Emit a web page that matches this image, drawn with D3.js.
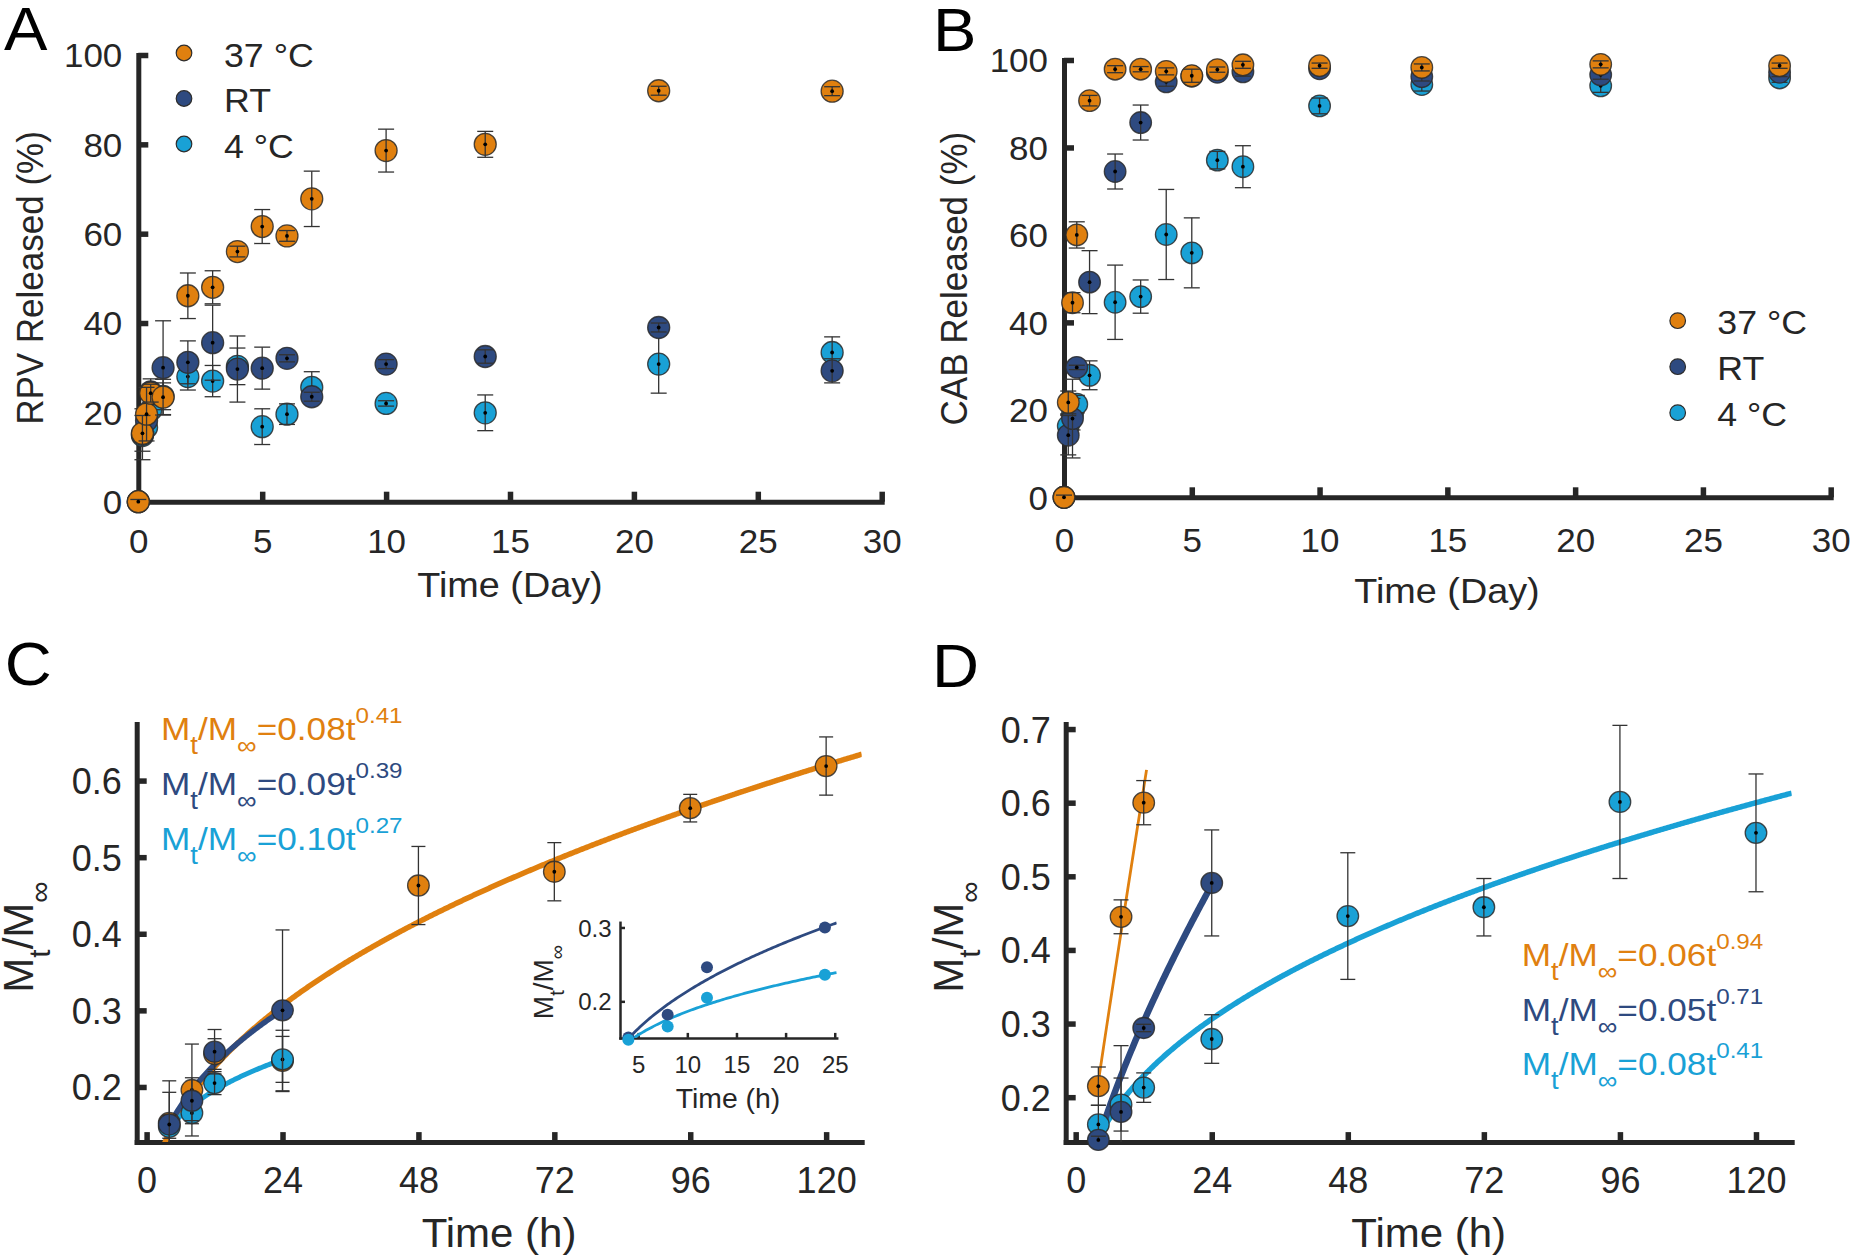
<!DOCTYPE html>
<html><head><meta charset="utf-8">
<script src="https://cdn.jsdelivr.net/npm/d3@7"></script>
<style>
body{margin:0;background:#fff}
svg{display:block}
text{font-family:"Liberation Sans",Arial,Helvetica,sans-serif}
</style>
</head><body>
<script>
// ---------------- DATA ----------------
const seriesNames = ["37 °C", "RT", "4 °C"];

// Panel A / B : time in days
const dayTimes = [0, 0.167, 0.333, 0.5, 1, 2, 3, 4, 5, 6, 7, 10, 14, 21, 28];
const rpv37    = [0, 15.3, 19.6, 24.3, 23.4, 46.1, 48.0, 56.0, 61.6, 59.5, 67.8, 78.6, 80.0, 92.0, 91.9];
const rpv37Err = [0.5, 4.0, 6.0, 2.0, 4.0, 5.1, 3.7, 1.2, 3.8, 1.2, 6.2, 4.8, 2.9, 1.0, 1.0];
const rpvRT    = [0, 15.1, 18.2, 24.6, 30.0, 31.2, 35.6, 29.7, 29.9, 32.1, 23.5, 30.8, 32.5, 39.0, 29.3];
const rpvRTErr = [0.5, 5.7, 3.0, 2.9, 10.5, 4.8, 8.4, 7.4, 4.7, 0.8, 1.0, 1.0, 1.5, 1.0, 2.7];
const rpv4     = [0, 14.8, 16.6, 20.5, 23.6, 28.0, 27.0, 30.3, 16.8, 19.6, 25.6, 22.0, 19.9, 30.8, 33.4];
const rpv4Err  = [0.5, 1.5, 1.0, 1.5, 3.0, 3.0, 3.5, 4.1, 4.0, 2.3, 3.5, 0.6, 4.0, 6.5, 3.5];

const cab37    = [0, 21.7, 44.5, 60.0, 90.7, 97.9, 97.9, 97.4, 96.4, 97.8, 98.9, 98.7, 98.3, 99.0, 98.7];
const cab37Err = [0.5, 2.6, 2.3, 3.0, 1.2, 0.8, 0.6, 0.8, 1.5, 0.6, 0.8, 0.6, 0.8, 0.8, 0.6];
const cabRT    = [0, 14.2, 18.0, 29.7, 49.2, 74.5, 85.7, 95.0, 96.3, 97.2, 97.3, 98.0, 96.2, 96.6, 97.2];
const cabRTErr = [0.5, 4.5, 9.0, 0.5, 7.2, 4.0, 4.0, 1.0, 1.0, 1.0, 1.0, 1.0, 1.0, 1.0, 1.0];
const cab4     = [0, 16.3, 19.0, 21.3, 27.9, 44.6, 45.9, 60.1, 55.9, 77.1, 75.6, 89.5, 94.4, 94.1, 95.9];
const cab4Err  = [0.5, 2.6, 3.6, 2.0, 3.3, 8.5, 3.8, 10.3, 8.0, 2.0, 4.8, 1.8, 1.5, 1.5, 1.0];

// Panel C / D : time in hours, fraction released
const hourTimes   = [4, 8, 12, 24, 48, 72, 96, 120];
const frRPV37     = [0.153, 0.196, 0.243, 0.234, 0.463, 0.481, 0.564, 0.619];
const frRPV37Err  = [0.040, 0.060, 0.020, 0.040, 0.051, 0.038, 0.018, 0.038];
const frRPVRT     = [0.151, 0.182, 0.246, 0.300];
const frRPVRTErr  = [0.057, 0.030, 0.029, 0.105];
const frRPV4      = [0.148, 0.166, 0.205, 0.236];
const frRPV4Err   = [0.015, 0.010, 0.015, 0.030];

const frCAB37     = [0.215, 0.445, 0.600];
const frCAB37Err  = [0.026, 0.023, 0.030];
const frCABRT     = [0.142, 0.180, 0.294, 0.491];
const frCABRTErr  = [0.005, 0.090, 0.005, 0.072];
const frCAB4      = [0.163, 0.190, 0.213, 0.279, 0.446, 0.458, 0.601, 0.559];
const frCAB4Err   = [0.026, 0.036, 0.020, 0.033, 0.086, 0.039, 0.104, 0.080];

// power-law fits  Mt/Minf = a * t^n  (curve parameters)
const fitRPVa   = [0.0762, 0.087, 0.100];
const fitRPVn   = [0.438, 0.39, 0.27];
const fitRPVt   = [[0, 126.3], [4, 24], [4, 24]];
const fitCABa   = [0.060, 0.0545, 0.0811];
const fitCABn   = [0.94, 0.69, 0.418];
const fitCABt   = [[4, 12.5], [4, 24], [4, 126.3]];
const eqRPVcoef = ["0.08", "0.09", "0.10"];
const eqRPVexp  = ["0.41", "0.39", "0.27"];
const eqCABcoef = ["0.06", "0.05", "0.08"];
const eqCABexp  = ["0.94", "0.71", "0.41"];

// tick labels
const dayTicks    = [0, 5, 10, 15, 20, 25, 30];
const pctTicks    = [0, 20, 40, 60, 80, 100];
const hourTicks   = [0, 24, 48, 72, 96, 120];
const fracTicksC  = [0.2, 0.3, 0.4, 0.5, 0.6];
const fracTicksD  = [0.2, 0.3, 0.4, 0.5, 0.6, 0.7];
const insetXTicks = [5, 10, 15, 20, 25];
const insetYTicks = [0.2, 0.3];

// ---------------- STYLE ----------------
const AX = "#262626";
const COL = ["#E0800F", "#2E4A80", "#19A1D6"]; // 37 °C, RT, 4 °C

const svg = d3.select("body").append("svg").attr("width", 1854).attr("height", 1260);
svg.append("rect").attr("width", 1854).attr("height", 1260).attr("fill", "#fff");
const defs = svg.append("defs");

function stext(g, x, y, str, size, sx, anchor, rot, color) {
  return g.append("text")
    .attr("transform", `translate(${x},${y}) scale(${sx},1)${rot ? " rotate(-90)" : ""}`)
    .attr("text-anchor", anchor).attr("font-size", size).attr("fill", color || AX).text(str);
}
function rich(g, x, y, parts, o) {
  const t = g.append("text")
    .attr("transform", `translate(${x},${y}) scale(${o.sx},1)${o.rot ? " rotate(-90)" : ""}`)
    .attr("text-anchor", o.anchor || "start").attr("fill", o.color).attr("font-size", o.size);
  let cur = 0;
  for (const p of parts) {
    const lvl = p.sub ? o.subDy : p.sup ? -o.supDy : 0;
    t.append("tspan").attr("dy", lvl - cur)
      .attr("font-size", p.sub ? o.subSize : p.sup ? o.supSize : o.size).text(p.t);
    cur = lvl;
  }
  return t;
}
const labelParts = [{t: "M"}, {t: "t", sub: 1}, {t: "/M"}, {t: "\u221E", sub: 1}];
function eqParts(c, e) {
  return [{t: "M"}, {t: "t", sub: 1}, {t: "/M"}, {t: "\u221E", sub: 1}, {t: "=" + c + "t"}, {t: e, sup: 1}];
}

function axes(g, x, y, o) {
  const xa = d3.axisBottom(x).tickValues(o.xt).tickSizeInner(-o.tl).tickSizeOuter(0).tickFormat(o.xf);
  const ya = d3.axisLeft(y).tickValues(o.yt).tickSizeInner(-o.tl).tickSizeOuter(0).tickFormat(o.yf);
  const gx = g.append("g").attr("transform", `translate(0,${y.range()[0]})`).call(xa);
  const gy = g.append("g").attr("transform", `translate(${x.range()[0]},0)`).call(ya);
  for (const a of [gx, gy]) {
    a.attr("color", AX).attr("font-size", o.fs).attr("font-family", null);
    a.select(".domain").attr("stroke-width", o.aw).attr("stroke-linecap", "square");
    a.selectAll(".tick line").attr("stroke-width", o.tw);
  }
  gx.selectAll(".tick text").attr("y", o.xlb).attr("dy", null).attr("transform", `scale(${o.sx},1)`);
  gy.selectAll(".tick text").attr("x", -o.ylg / o.sx).attr("dy", "0.36em").attr("transform", `scale(${o.sx},1)`);
}

function scatter(g, x, y, times, vals, errs, color, o) {
  const yMin = y.domain()[0];
  const pts = vals.map((v, i) => ({t: times[i], v, e: errs[i]}));
  const s = g.append("g");
  s.selectAll("ellipse").data(pts).join("ellipse")
    .attr("cx", d => x(d.t)).attr("cy", d => y(d.v)).attr("rx", o.rx).attr("ry", o.ry)
    .attr("fill", color).attr("stroke", "#2c2c2c").attr("stroke-opacity", 0.85).attr("stroke-width", 1.3);
  const b = s.append("g").attr("stroke", "#333").attr("stroke-width", 1.3);
  b.selectAll("line.v").data(pts).join("line").attr("class", "v")
    .attr("x1", d => x(d.t)).attr("x2", d => x(d.t))
    .attr("y1", d => y(Math.max(d.v - d.e, yMin))).attr("y2", d => y(d.v + d.e));
  b.selectAll("line.h").data(pts).join("line").attr("class", "h")
    .attr("x1", d => x(d.t) - o.cap).attr("x2", d => x(d.t) + o.cap)
    .attr("y1", d => y(d.v + d.e)).attr("y2", d => y(d.v + d.e));
  b.selectAll("line.l").data(pts.filter(d => d.v - d.e >= yMin)).join("line").attr("class", "l")
    .attr("x1", d => x(d.t) - o.cap).attr("x2", d => x(d.t) + o.cap)
    .attr("y1", d => y(d.v - d.e)).attr("y2", d => y(d.v - d.e));
  s.selectAll("circle.dot").data(pts).join("circle").attr("class", "dot")
    .attr("cx", d => x(d.t)).attr("cy", d => y(d.v)).attr("r", 1.9).attr("fill", "#000");
}

function clipFor(id, x, y) {
  const [x0, x1] = x.range(), [yb, yt] = y.range();
  defs.append("clipPath").attr("id", id).append("rect")
    .attr("x", x0).attr("y", yt - 30).attr("width", x1 - x0).attr("height", yb - yt + 30);
}
function curve(g, x, y, a, n, tr, color, w, clip) {
  const ts = d3.range(tr[0], tr[1], 0.2).concat([tr[1]]);
  g.append("path").datum(ts).attr("clip-path", `url(#${clip})`)
    .attr("d", d3.line().x(t => x(t)).y(t => y(a * Math.pow(t, n))))
    .attr("fill", "none").attr("stroke", color).attr("stroke-width", w);
}

function legendDots(g, cx, cy0, dy, tx, sx) {
  seriesNames.forEach((name, i) => {
    g.append("circle").attr("cx", cx).attr("cy", cy0 + i * dy).attr("r", 7.8)
      .attr("fill", COL[i]).attr("stroke", "#2c2c2c").attr("stroke-width", 1.2);
    stext(g, tx, cy0 + i * dy + 13.5, name, 34, sx, "start", false, AX);
  });
}

const topAx = {tl: 10, aw: 5, tw: 5.5, fs: 33, sx: 1.06, ylg: 16, xf: d3.format("d"), yf: d3.format("d")};
const botAx = {tl: 10, aw: 5, tw: 5.5, fs: 36, sx: 1.0, ylg: 15, xlb: 50.6, xf: d3.format("d"), yf: d3.format(".1f")};
const eqStyle = {sx: 1.1, size: 32, subSize: 25, supSize: 22, subDy: 14, supDy: 17};

// ---------------- PANEL A ----------------
{
  const g = svg.append("g");
  const x = d3.scaleLinear().domain([0, 30]).range([138.3, 881.7]);
  const y = d3.scaleLinear().domain([0, 100]).range([501.7, 55]);
  axes(g, x, y, {...topAx, xt: dayTicks, yt: pctTicks, xlb: 51.6});
  const m = {rx: 11, ry: 11, cap: 8};
  scatter(g, x, y, dayTimes, rpv4, rpv4Err, COL[2], m);
  scatter(g, x, y, dayTimes, rpvRT, rpvRTErr, COL[1], m);
  scatter(g, x, y, dayTimes, rpv37, rpv37Err, COL[0], m);
  legendDots(g, 184, 53, 45.5, 224, 1.05);
  stext(g, 510, 596.7, "Time (Day)", 35, 1.08, "middle");
  stext(g, 43.3, 278, "RPV Released (%)", 35, 1.07, "middle", true);
  stext(g, 4, 50, "A", 62, 1.05, "start", false, "#000");
}
// ---------------- PANEL B ----------------
{
  const g = svg.append("g");
  const x = d3.scaleLinear().domain([0, 30]).range([1064, 1830.7]);
  const y = d3.scaleLinear().domain([0, 100]).range([497.3, 60]);
  axes(g, x, y, {...topAx, xt: dayTicks, yt: pctTicks, xlb: 54.4});
  const m = {rx: 10.8, ry: 10.8, cap: 8};
  scatter(g, x, y, dayTimes, cab4, cab4Err, COL[2], m);
  scatter(g, x, y, dayTimes, cabRT, cabRTErr, COL[1], m);
  scatter(g, x, y, dayTimes, cab37, cab37Err, COL[0], m);
  legendDots(g, 1677.7, 320.7, 46, 1717.3, 1.05);
  stext(g, 1447, 603, "Time (Day)", 35, 1.08, "middle");
  stext(g, 966.5, 278.6, "CAB Released (%)", 35, 1.07, "middle", true);
  stext(g, 933, 51, "B", 62, 1.05, "start", false, "#000");
}
// ---------------- PANEL C ----------------
{
  const g = svg.append("g");
  const x = d3.scaleLinear().domain([-1.75, 126.28]).range([136.7, 861.7]);
  const y = d3.scaleLinear().domain([0.128, 0.674]).range([1142.1, 723.9]);
  axes(g, x, y, {...botAx, xt: hourTicks, yt: fracTicksC});
  clipFor("clipC", x, y);
  curve(g, x, y, fitRPVa[0], fitRPVn[0], fitRPVt[0], COL[0], 5.5, "clipC");
  curve(g, x, y, fitRPVa[2], fitRPVn[2], fitRPVt[2], COL[2], 5, "clipC");
  curve(g, x, y, fitRPVa[1], fitRPVn[1], fitRPVt[1], COL[1], 5.5, "clipC");
  const m = {rx: 10.8, ry: 10.5, cap: 7};
  scatter(g, x, y, hourTimes, frRPV37, frRPV37Err, COL[0], m);
  scatter(g, x, y, hourTimes, frRPV4, frRPV4Err, COL[2], m);
  scatter(g, x, y, hourTimes, frRPVRT, frRPVRTErr, COL[1], m);
  [0, 1, 2].forEach(i => rich(g, 161, 739.5 + i * 55.3, eqParts(eqRPVcoef[i], eqRPVexp[i]),
    {...eqStyle, color: COL[i]}));
  stext(g, 499, 1247.2, "Time (h)", 40, 1.05, "middle");
  rich(g, 33.3, 937, labelParts, {sx: 1.0, size: 42, subSize: 30, subDy: 17, supDy: 0, color: AX, rot: true, anchor: "middle"});
  stext(g, 4.7, 685, "C", 62, 1.05, "start", false, "#000");

  // inset
  const xi = d3.scaleLinear().domain([3.15, 25.2]).range([620, 836.7]);
  const yi = d3.scaleLinear().domain([0.1505, 0.307]).range([1037.9, 922.3]);
  axes(g, xi, yi, {tl: 5, aw: 2.5, tw: 2.5, fs: 24, sx: 1.0, ylg: 8.5, xlb: 35.4,
    xt: insetXTicks, yt: insetYTicks, xf: d3.format("d"), yf: d3.format(".1f")});
  clipFor("clipI", xi, yi);
  curve(g, xi, yi, fitRPVa[1], fitRPVn[1], [4, 25.2], COL[1], 2.8, "clipI");
  curve(g, xi, yi, fitRPVa[2], fitRPVn[2], [4, 25.2], COL[2], 2.8, "clipI");
  const ins = (vals, c) => g.append("g").selectAll("circle").data(vals).join("circle")
    .attr("cx", (d, i) => xi(hourTimes[i])).attr("cy", d => yi(d)).attr("r", 6).attr("fill", c);
  ins(frRPVRT, COL[1]);
  ins(frRPV4, COL[2]);
  stext(g, 728, 1108.3, "Time (h)", 27, 1.05, "middle");
  rich(g, 553.3, 982, labelParts, {sx: 1.0, size: 28, subSize: 20, subDy: 11, supDy: 0, color: AX, rot: true, anchor: "middle"});
}
// ---------------- PANEL D ----------------
{
  const g = svg.append("g");
  const x = d3.scaleLinear().domain([-1.76, 126.3]).range([1065.7, 1791.7]);
  const y = d3.scaleLinear().domain([0.139, 0.707]).range([1142.1, 723.9]);
  axes(g, x, y, {...botAx, xt: hourTicks, yt: fracTicksD});
  clipFor("clipD", x, y);
  curve(g, x, y, fitCABa[2], fitCABn[2], fitCABt[2], COL[2], 5.5, "clipD");
  curve(g, x, y, fitCABa[1], fitCABn[1], fitCABt[1], COL[1], 6.5, "clipD");
  curve(g, x, y, fitCABa[0], fitCABn[0], fitCABt[0], COL[0], 2.8, "clipD");
  const m = {rx: 10.8, ry: 10.5, cap: 7.5};
  scatter(g, x, y, hourTimes, frCAB37, frCAB37Err, COL[0], m);
  scatter(g, x, y, hourTimes, frCAB4, frCAB4Err, COL[2], m);
  scatter(g, x, y, hourTimes, frCABRT, frCABRTErr, COL[1], m);
  [0, 1, 2].forEach(i => rich(g, 1521.7, 966 + i * 54.5, eqParts(eqCABcoef[i], eqCABexp[i]),
    {...eqStyle, color: COL[i]}));
  stext(g, 1428.7, 1247.2, "Time (h)", 40, 1.05, "middle");
  rich(g, 963.3, 937, labelParts, {sx: 1.0, size: 42, subSize: 30, subDy: 17, supDy: 0, color: AX, rot: true, anchor: "middle"});
  stext(g, 932, 687, "D", 62, 1.05, "start", false, "#000");
}
</script>
</body></html>
